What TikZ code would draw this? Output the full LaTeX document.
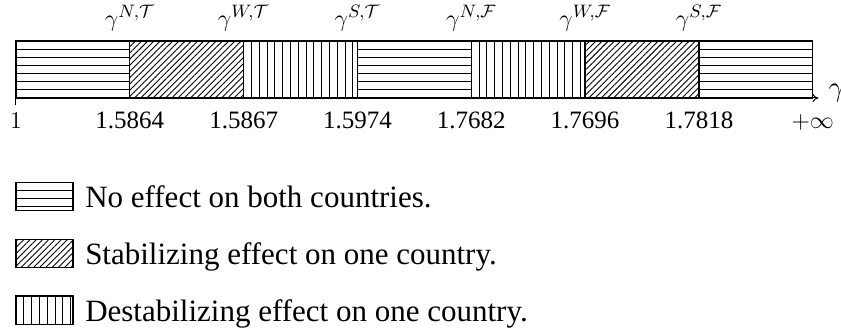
\documentclass[tikz,border=0pt]{standalone}
\usepackage{fontspec}
\setmainfont{Liberation Serif}
\usepackage{amsmath}
\usetikzlibrary{arrows.meta,positioning,patterns.meta}

\tikzset{
  segbox/.style={
    rectangle, draw, line width=0.6pt,
    minimum width=2cm, minimum height=1cm,
    inner sep=0pt, outer sep=0pt
  },
  keybox/.style={
    rectangle, draw, line width=0.6pt,
    minimum width=1cm, minimum height=0.5cm,
    inner sep=0pt, outer sep=0pt
  },
  % horizontal hatching, drawn line by line
  noeffect/.style={
    path picture={
      \foreach \k in {1,...,7} {
        \draw[line width=0.45pt]
          ([yshift=-\k*4pt]path picture bounding box.north west) --
          ([yshift=-\k*4pt]path picture bounding box.north east);
      }
    }
  },
  stabfill/.style={
    pattern={Lines[angle=45, distance=2.2pt, line width=0.45pt]}
  },
  % vertical hatching, drawn line by line
  destabfill/.style={
    path picture={
      \foreach \k in {1,...,14} {
        \draw[line width=0.45pt]
          ([xshift=\k*3.9pt]path picture bounding box.north west) --
          ([xshift=\k*3.9pt]path picture bounding box.south west);
      }
    }
  },
  axisline/.style={
    -{To[length=3pt, width=4pt]}, line width=0.5pt
  },
  valuelabel/.style={
    font=\fontsize{12.5}{15}\selectfont, anchor=base, inner sep=0pt
  },
  keytext/.style={
    font=\fontsize{15.5}{18}\selectfont, anchor=base west, inner sep=0pt
  },
}

\begin{document}
\begin{tikzpicture}
  \useasboundingbox (-0.281,-4.112) rectangle (14.497,1.722);

  % Intervals
  \foreach \st [count=\i] in {noeffect,stabfill,destabfill,noeffect,destabfill,stabfill,noeffect} {
    \node[segbox, \st] (seg\i) at (2*\i-1, 0.5) {};
  }

  % Axis
  \coordinate[right=0.1cm of seg7.south east] (axisend);
  \draw[axisline] (seg1.south west) -- (axisend);
  \draw[line width=0.5pt] (seg1.south west) -- ++(0,-0.12);
  \node[anchor=base west, inner sep=0pt, font=\fontsize{13.5}{15}\selectfont]
    (axisname) at ([xshift=0.17cm, yshift=0.02cm]axisend) {$\gamma$};

  % Thresholds
  \foreach \lab [count=\i] in {{N,\mathcal{T}},{W,\mathcal{T}},{S,\mathcal{T}},{N,\mathcal{F}},{W,\mathcal{F}},{S,\mathcal{F}}} {
    \node[valuelabel] (thr\i) at ([yshift=0.26cm]seg\i.north east) {$\gamma^{\lab}$};
  }
  \foreach \val [count=\i] in {1.5864,1.5867,1.5974,1.7682,1.7696,1.7818} {
    \node[valuelabel] (num\i) at ([yshift=-0.53cm]seg\i.south east) {\val};
  }
  \node[valuelabel] (numlow) at ([yshift=-0.53cm]seg1.south west) {$1$};
  \node[valuelabel] (numhigh) at ([yshift=-0.53cm]seg7.south east) {$+\infty$};

  % Legend
  \node[keybox, noeffect, anchor=north west] (key1) at (0,-1.48) {};
  \node[keybox, stabfill, below=0.5cm of key1] (key2) {};
  \node[keybox, destabfill, below=0.5cm of key2] (key3) {};

  \node[keytext] (txt1) at ([xshift=0.21cm, yshift=0.06cm]key1.south east) {No effect on both countries.};
  \node[keytext] (txt2) at ([xshift=0.21cm, yshift=0.06cm]key2.south east) {Stabilizing effect on one country.};
  \node[keytext] (txt3) at ([xshift=0.21cm, yshift=0.06cm]key3.south east) {Destabilizing effect on one country.};
\end{tikzpicture}
\end{document}
